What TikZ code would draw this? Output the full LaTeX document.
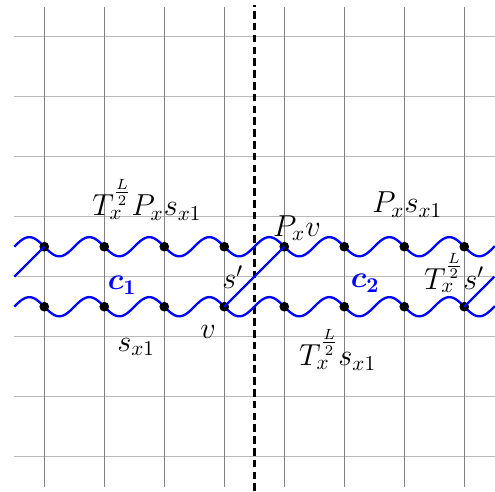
\documentclass[tikz,border=0pt]{standalone}
\usepackage{amsmath}
\usepackage{bm}
\usetikzlibrary{positioning}

\begin{document}
\begin{tikzpicture}[
    vgrid/.style={draw=gray, line width=0.55pt},
    hgrid/.style={draw=gray!55, line width=0.7pt},
    chain/.style={blue, line width=1.1pt},
    site/.style={circle, fill=black, inner sep=0pt, minimum size=4.6pt},
    cut/.style={dash pattern=on 3.6pt off 2pt, line width=1.2pt},
    lbl/.style={font=\Large, inner sep=1pt}
]
\useasboundingbox (-0.738,-0.572) rectangle (7.512,7.612);
% grid
\foreach \y in {0,...,7} \draw[hgrid] (-0.5,\y) -- (7.512,\y);
\foreach \x in {0,...,7} \draw[vgrid] (\x,-0.5) -- (\x,7.5);
\draw[cut] (3.5,-0.572) -- (3.5,7.53);

% the two chains
\draw[chain] plot[domain=-0.5:7.512, samples=240, smooth] (\x, {3.5-0.16*sin(360*\x)});
\draw[chain] plot[domain=-0.5:7.512, samples=240, smooth] (\x, {2.5-0.16*sin(360*\x)});

\foreach \i in {0,...,7} {
    \node[site] (t\i) at (\i,3.5) {};
    \node[site] (b\i) at (\i,2.5) {};
}

% boundary links
\coordinate (lt) at (-0.5,3);
\coordinate (rt) at (7.5,3);
\draw[chain] (lt) -- (t0.center);
\draw[chain] (b3.center) -- (t4.center);
\draw[chain] (b7.center) -- (rt);

% labels
\node[lbl] (tps) at (1.71,4.28) {$T_x^{\frac{L}{2}} P_x s_{x1}$};
\node[lbl] (ps) at (6.05,4.2) {$P_x s_{x1}$};
\node[lbl] (pv) at (4.21,3.81) {$P_x v$};
\node[lbl, text=blue] (c1) at (1.3,2.86) {$\bm{c_1}$};
\node[lbl, text=blue] (c2) at (5.35,2.89) {$\bm{c_2}$};
\node[lbl] (sp) at (3.14,3.0) {$s'$};
\node[lbl] (tsp) at (6.83,3.06) {$T_x^{\frac{L}{2}} s'$};
\node[lbl] (v) at (2.73,2.08) {$v$};
\node[lbl] (s) at (1.53,1.83) {$s_{x1}$};
\node[lbl] (ts) at (4.89,1.78) {$T_x^{\frac{L}{2}} s_{x1}$};
\end{tikzpicture}
\end{document}
